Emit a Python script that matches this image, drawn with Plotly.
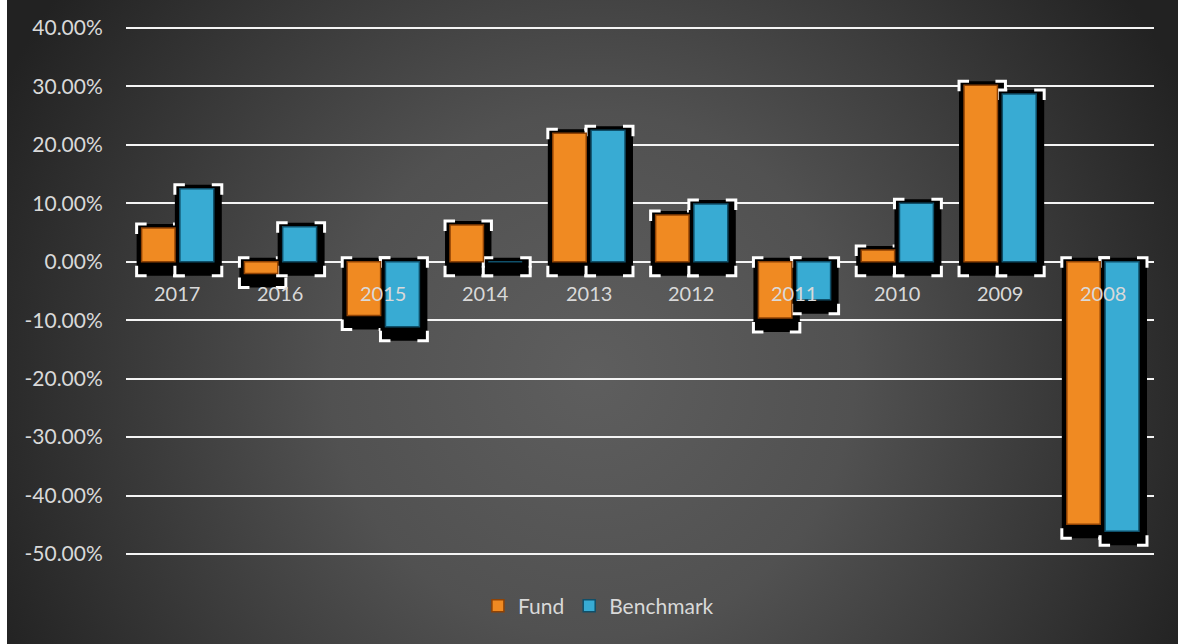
import base64
import plotly.graph_objects as go

# ---------------- data ----------------
years = ["2017", "2016", "2015", "2014", "2013", "2012", "2011", "2010", "2009", "2008"]
fund = [5.8, -2.0, -9.2, 6.3, 22.0, 8.0, -9.6, 2.0, 30.2, -44.9]
benchmark = [12.5, 6.0, -11.1, 0.0, 22.5, 9.9, -6.5, 10.0, 28.7, -46.1]
y_ticks = [40, 30, 20, 10, 0, -10, -20, -30, -40, -50]

# ---------------- layout constants ----------------
W, H = 1178, 644
EDGE = 3  # px of breathing room so the outer gridlines are drawn
ML, MR, MT, MB = 126, 24, 28 - EDGE, 90 - EDGE
PW, PH = W - ML - MR, H - MT - MB
Y_MIN, Y_MAX = -50, 40
N = len(years)
PX_CAT = PW / N
PX_PCT = (PH - 2 * EDGE) / (Y_MAX - Y_MIN)


def dx(px):
    return px / PX_CAT


def dy(px):
    return px / PX_PCT


FONT = "Lato, 'Open Sans', sans-serif"
TXT = "#d9d9d9"

xs = list(range(N))
series = [
    ("Fund", fund, -0.348, 0.325, "#F08A22", "#8f4204"),
    ("Benchmark", benchmark, 0.024, 0.33, "#38ABD3", "#0f4f69"),
]

fig = go.Figure()
shapes = []
for i in xs:
    for name, vals, off, wid, col, lcol in series:
        v = vals[i]
        x0 = i + off - dx(5)
        x1 = i + off + wid + dx(8)
        yt = max(v, 0) + dy(4)
        yb = min(v, 0) - dy(14)
        shapes.append(dict(type="rect", xref="x", yref="y", x0=x0, x1=x1, y0=yb, y1=yt,
                           fillcolor="black", line=dict(width=0), layer="between"))
        L = 10
        corners = [
            (x0, yt - dy(L), x0, yt, x0 + dx(L), yt),
            (x1 - dx(L), yt, x1, yt, x1, yt - dy(L)),
            (x0, yb + dy(L), x0, yb, x0 + dx(L), yb),
            (x1 - dx(L), yb, x1, yb, x1, yb + dy(L)),
        ]
        for ax, ay, bx, by, cx, cy in corners:
            shapes.append(dict(type="path", xref="x", yref="y",
                               path=f"M {ax},{ay} L {bx},{by} L {cx},{cy}",
                               line=dict(color="white", width=3), layer="between"))

for name, vals, off, wid, col, lcol in series:
    fig.add_trace(go.Bar(
        x=xs, y=vals, name=name, offset=off, width=wid,
        marker=dict(color=col, line=dict(color=lcol, width=1.5)),
    ))

# category labels sitting under the zero line
annotations = [
    dict(x=i, y=0, xref="x", yref="y", text=years[i], showarrow=False,
         yshift=-31, font=dict(family=FONT, size=20, color=TXT))
    for i in xs
]

# radial gradient background as inline SVG
LEFT_STRIP = 7
bg_w = W - LEFT_STRIP
svg = f'''<svg xmlns="http://www.w3.org/2000/svg" width="{bg_w}" height="{H}" viewBox="0 0 {bg_w} {H}">
<defs><radialGradient id="g" gradientUnits="userSpaceOnUse" cx="{bg_w*0.5}" cy="{H*0.58}" r="{bg_w*0.56}">
<stop offset="0" stop-color="#5e5e5e"/><stop offset="0.4" stop-color="#515151"/><stop offset="1" stop-color="#222222"/>
</radialGradient></defs><rect width="{bg_w}" height="{H}" fill="url(#g)"/></svg>'''
src = "data:image/svg+xml;base64," + base64.b64encode(svg.encode()).decode()

fig.update_layout(
    width=W, height=H,
    margin=dict(l=ML, r=MR, t=MT, b=MB, pad=0),
    paper_bgcolor="white",
    plot_bgcolor="rgba(0,0,0,0)",
    barmode="overlay",
    showlegend=True,
    legend=dict(orientation="h", xref="container", yref="container", x=0.508, y=0.059,
                xanchor="center", yanchor="middle", bgcolor="rgba(0,0,0,0)",
                font=dict(family=FONT, size=21, color=TXT), itemwidth=30),
    shapes=shapes,
    annotations=annotations,
    images=[dict(source=src, xref="paper", yref="paper",
                 x=(LEFT_STRIP - ML) / PW, y=1 + MT / PH, sizex=bg_w / PW, sizey=H / PH,
                 xanchor="left", yanchor="top", sizing="stretch", layer="below")],
    xaxis=dict(range=[-0.5, N - 0.5], showticklabels=False, showgrid=False,
               zeroline=False, showline=False, ticks=""),
    yaxis=dict(range=[Y_MIN - dy(EDGE), Y_MAX + dy(EDGE)], tickvals=y_ticks,
               ticktext=[f"{t:.2f}%" for t in y_ticks],
               showgrid=True, gridcolor="#f4f4f4", gridwidth=2,
               zeroline=True, zerolinecolor="#f4f4f4", zerolinewidth=2,
               showline=False, ticks="outside", ticklen=18, tickcolor="rgba(0,0,0,0)",
               tickfont=dict(family=FONT, size=21, color=TXT)),
    hovermode=False,
)

fig.write_html("out.html", config={"displayModeBar": False},
               post_script="document.body.style.margin='0';document.body.style.overflow='hidden';")
